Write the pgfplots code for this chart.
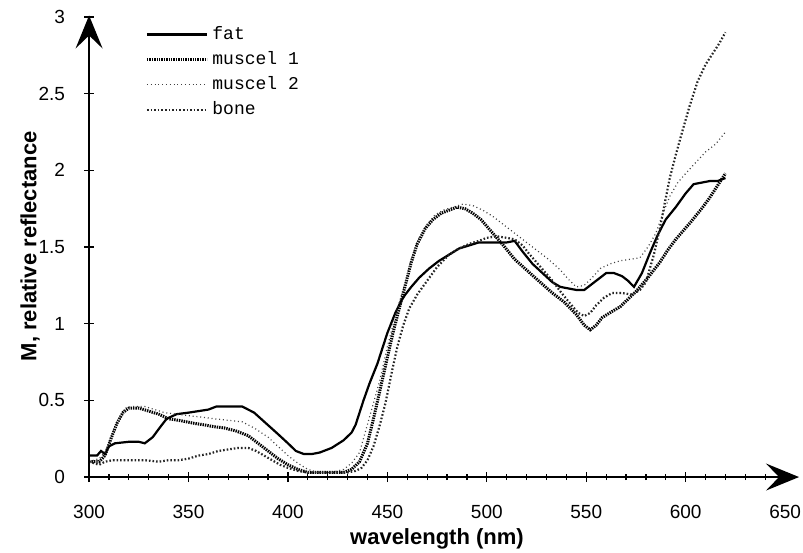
\documentclass[border=0pt]{standalone}
\usepackage{fontspec}
\setmainfont{Liberation Sans}
\newfontfamily\monofont{Liberation Mono}
\usepackage{pgfplots}
\pgfplotsset{compat=1.18}
\usetikzlibrary{arrows.meta}
\pgfplotsset{
  fatstyle/.style={black, line width=1.1pt},
  m1style/.style={black, line width=1.5pt, dash pattern=on 0.7pt off 0.5pt},
  m2style/.style={black!75, line width=0.6pt, dash pattern=on 0.5pt off 1.4pt},
  bonestyle/.style={black!85, line width=1.1pt, dash pattern=on 0.8pt off 1.0pt},
}
\begin{document}
\begin{tikzpicture}
\begin{axis}[
  scale only axis,
  width=355pt, height=230.8pt,
  xmin=300, xmax=657, ymin=0, ymax=3.01,
  clip=false,
  axis lines=left,
  axis line style={draw=none},
  xtick={300,350,...,650},
  minor x tick num=4,
  ytick={0,0.5,1,1.5,2,2.5,3},
  yticklabels={0,0.5,1,1.5,2,2.5,3},
  tick align=center,
  major tick length=5pt,
  minor tick length=3pt,
  tick style={black, line width=0.6pt},
  ticklabel style={font=\fontsize{9.5}{11}\selectfont},
  /pgf/number format/assume math mode=true,
  xticklabel shift=8pt,
  yticklabel shift=6pt,
  xlabel={\textbf{wavelength (nm)}},
  ylabel={\textbf{M, relative reflectance}},
  label style={font=\fontsize{11}{13}\selectfont},
  xlabel style={at={(axis description cs:0.49,0)}, anchor=center, yshift=-31pt},
  ylabel style={at={(axis description cs:-0.083,0.5)}, anchor=center},
  legend style={at={(rel axis cs:0.076,0.99)}, anchor=north west, draw=none, fill=none,
    font=\monofont\fontsize{9}{10}\selectfont, row sep=0.5pt, inner sep=1pt,
    /tikz/every even column/.append style={column sep=1pt}},
  legend cell align=left,
  legend image code/.code={\draw[#1] (0pt,0pt) -- (30pt,0pt);},
  after end axis/.code={
    \draw[black, line width=0.8pt, -{Stealth[length=16.5pt,width=13.5pt,inset=6.5pt]}]
      (rel axis cs:0,0) -- (rel axis cs:1,0);
    \draw[black, line width=0.8pt, -{Stealth[length=16.5pt,width=13.5pt,inset=6.5pt]}]
      (rel axis cs:0,0) -- (rel axis cs:0,1);
  },
]
\coordinate (bbsw) at (axis cs:255.2,-0.489);
\coordinate (bbne) at (axis cs:659,3.111);

\addplot[fatstyle] coordinates {
(300,0.14) (304,0.14) (306,0.17) (308,0.15) (310,0.20) (313,0.22) (320,0.23) (325,0.23)
(328,0.22) (332,0.26) (336,0.33) (339,0.38) (344,0.41) (350,0.42) (355,0.43) (360,0.44)
(364,0.46) (370,0.46) (377,0.46) (383,0.42) (389,0.35) (395,0.28) (400,0.22) (404,0.17)
(408,0.15) (412,0.15) (416,0.16) (422,0.19) (428,0.24) (432,0.29) (434,0.34) (436,0.42)
(438,0.50) (441,0.61) (445,0.74) (450,0.94) (454,1.07) (457,1.15) (459,1.19) (462,1.24)
(466,1.30) (471,1.36) (476,1.41) (481,1.45) (486,1.49) (491,1.51) (496,1.53) (501,1.53)
(506,1.53) (510,1.53) (514,1.54) (518,1.47) (523,1.39) (528,1.33) (533,1.27) (537,1.24)
(541,1.23) (545,1.22) (549,1.22) (553,1.26) (557,1.30) (560,1.33) (564,1.33) (568,1.31)
(571,1.28) (574,1.24) (578,1.33) (582,1.46) (586,1.58) (590,1.68) (595,1.76) (600,1.85)
(604,1.91) (608,1.92) (612,1.93) (616,1.93) (620,1.95)
};
\addlegendentry{fat}

\addplot[m1style] coordinates {
(300,0.10) (305,0.10) (308,0.14) (311,0.25) (314,0.35) (317,0.42) (320,0.45) (325,0.45)
(330,0.43) (335,0.41) (340,0.38) (345,0.37) (353,0.35) (358,0.34) (362,0.33) (368,0.32)
(374,0.30) (380,0.27) (385,0.22) (390,0.17) (395,0.12) (400,0.08) (405,0.05) (410,0.03)
(420,0.03) (428,0.03) (432,0.05) (436,0.10) (440,0.22) (443,0.38) (446,0.55) (450,0.78)
(453,0.95) (456,1.10) (459,1.25) (462,1.40) (465,1.52) (469,1.62) (473,1.68) (477,1.72)
(481,1.74) (485,1.76) (489,1.75) (493,1.72) (497,1.68) (501,1.62) (505,1.56) (509,1.50)
(514,1.42) (520,1.35) (526,1.28) (533,1.20) (539,1.14) (545,1.06) (549,0.99) (552,0.96)
(555,0.99) (558,1.04) (563,1.08) (567,1.11) (571,1.16) (575,1.21) (581,1.30) (587,1.40)
(591,1.48) (595,1.55) (599,1.61) (603,1.67) (608,1.75) (612,1.82) (616,1.90) (620,1.98)
};
\addlegendentry{muscel 1}

\addplot[m2style] coordinates {
(300,0.10) (305,0.12) (308,0.16) (311,0.26) (314,0.35) (318,0.45) (322,0.46) (328,0.46)
(333,0.44) (338,0.42) (344,0.41) (350,0.40) (357,0.39) (363,0.38) (370,0.37) (377,0.36)
(383,0.32) (390,0.26) (395,0.20) (400,0.14) (405,0.09) (410,0.05) (415,0.03) (422,0.03)
(428,0.05) (432,0.09) (436,0.16) (441,0.39) (446,0.62) (450,0.85) (453,1.00) (456,1.14)
(459,1.27) (462,1.42) (466,1.56) (470,1.65) (474,1.71) (478,1.74) (483,1.76) (488,1.78)
(493,1.77) (498,1.74) (503,1.70) (508,1.65) (514,1.59) (520,1.53) (525,1.48) (531,1.42)
(537,1.35) (541,1.29) (545,1.24) (549,1.25) (553,1.30) (557,1.36) (562,1.39) (567,1.41)
(572,1.42) (577,1.43) (581,1.50) (585,1.59) (588,1.70) (592,1.83) (596,1.92) (600,1.98)
(605,2.05) (610,2.12) (615,2.17) (620,2.25)
};
\addlegendentry{muscel 2}

\addplot[bonestyle] coordinates {
(300,0.10) (305,0.08) (308,0.10) (312,0.11) (320,0.11) (328,0.11) (335,0.10) (340,0.11)
(345,0.11) (350,0.12) (355,0.14) (360,0.15) (365,0.17) (370,0.18) (375,0.19) (380,0.19)
(384,0.17) (388,0.14) (392,0.11) (396,0.08) (400,0.06) (405,0.04) (410,0.03) (420,0.03)
(430,0.03) (434,0.04) (437,0.06) (440,0.11) (443,0.20) (446,0.33) (449,0.48) (452,0.67)
(455,0.85) (458,0.99) (461,1.10) (465,1.19) (470,1.28) (475,1.37) (481,1.45) (486,1.49)
(491,1.52) (496,1.54) (500,1.56) (505,1.57) (510,1.56) (514,1.55) (518,1.51) (521,1.46)
(525,1.40) (529,1.34) (533,1.28) (537,1.21) (542,1.13) (546,1.07) (549,1.05) (552,1.07)
(555,1.12) (559,1.17) (563,1.20) (568,1.20) (573,1.19) (577,1.22) (580,1.27) (584,1.45)
(587,1.62) (590,1.82) (592,1.95) (595,2.10) (598,2.24) (602,2.42) (606,2.58) (610,2.69)
(614,2.77) (617,2.83) (620,2.90)
};
\addlegendentry{bone}
\end{axis}
\pgfresetboundingbox
\path[use as bounding box] (bbsw) rectangle (bbne);
\end{tikzpicture}
\end{document}
